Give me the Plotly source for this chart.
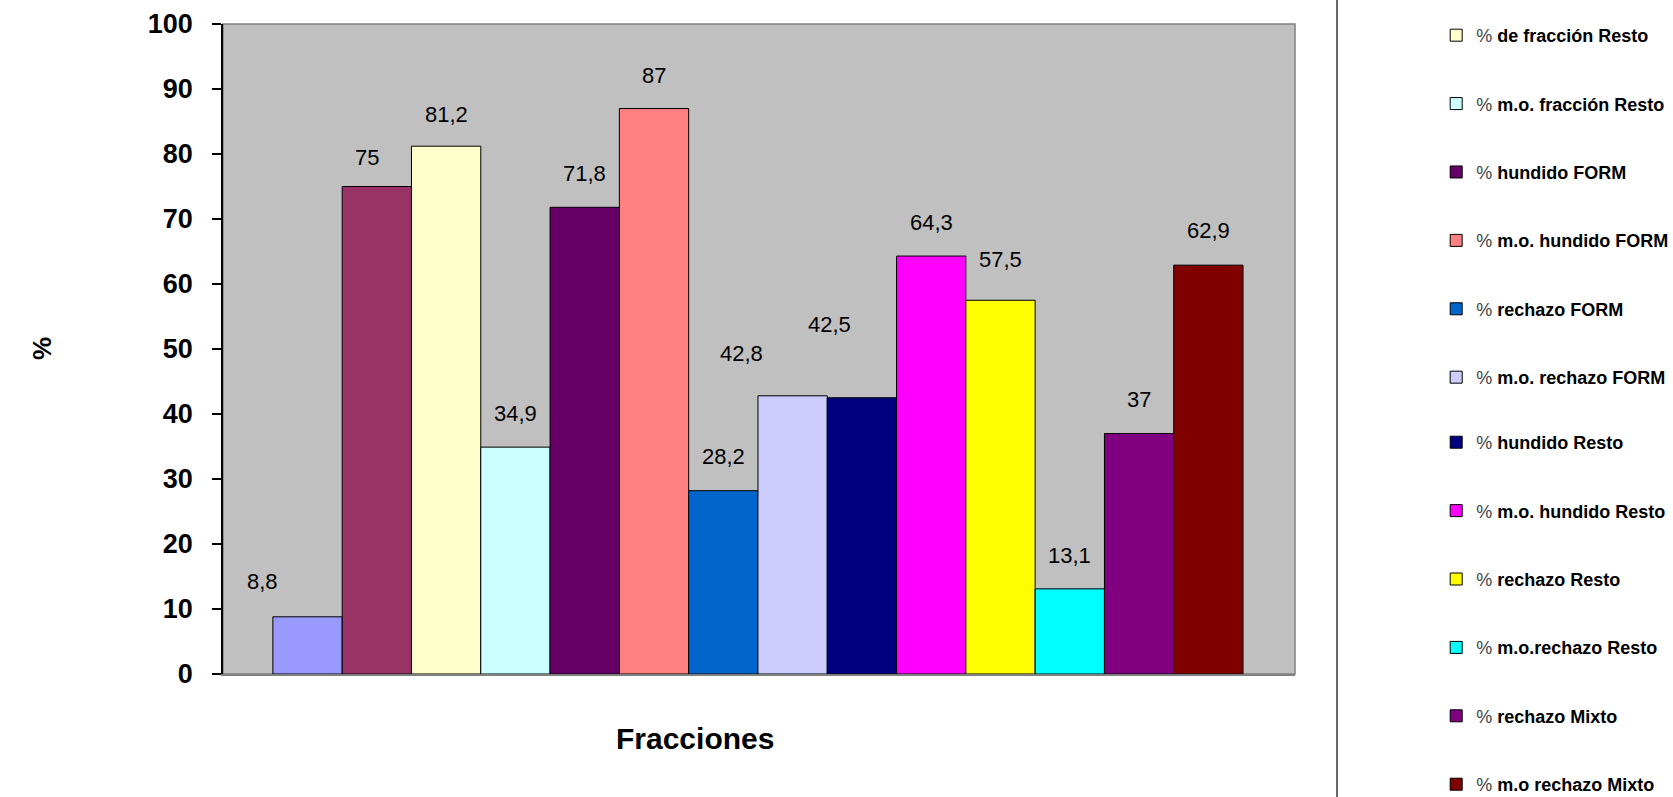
import plotly.graph_objects as go

# Series (one bar per series), values in %
series_names = [
    "% de fracción FORM",
    "% m.o. fracción FORM",
    "% de fracción Resto",
    "% m.o. fracción Resto",
    "% hundido FORM",
    "% m.o. hundido FORM",
    "% rechazo FORM",
    "% m.o. rechazo FORM",
    "% hundido Resto",
    "% m.o. hundido Resto",
    "% rechazo Resto",
    "% m.o.rechazo Resto",
    "% rechazo Mixto",
    "% m.o rechazo Mixto",
]
values = [8.8, 75, 81.2, 34.9, 71.8, 87, 28.2, 42.8, 42.5, 64.3, 57.5, 13.1, 37, 62.9]
colors = ["#9999FF", "#993366", "#FFFFCC", "#CCFFFF", "#660066", "#FF8080", "#0066CC",
          "#CCCCFF", "#000080", "#FF00FF", "#FFFF00", "#00FFFF", "#800080", "#800000"]
# which legend box each series is listed in (None = not listed)
legend_slot = [None, None] + ["legend"] * 6 + ["legend2"] * 6
y_ticks = list(range(0, 101, 10))

# pixel nudges for the value labels (relative to the top-centre of each bar)
label_dx = [-45, -10, 0, 0, 0, 0, 0, -51, -32, 0, 0, 0, 0, 0]
label_dy = [35, 29, 32, 34, 34, 33, 34, 42, 73, 34, 41, 33, 34, 35]

FONT = "Liberation Sans, Arial, sans-serif"


def fmt(v):
    return f"{v:g}".replace(".", ",")


def legend_label(name):
    rest = name[1:].strip()
    return f"<span style='font-weight:normal;color:#444'>%</span> {rest}"


fig = go.Figure()
for i, (name, v, c, slot) in enumerate(zip(series_names, values, colors, legend_slot)):
    fig.add_trace(go.Bar(
        x=[i], y=[v], width=1.0,
        name=legend_label(name),
        legendgroup=f"g{i}",
        legend=slot or "legend",
        showlegend=slot is not None,
        marker=dict(color=c, line=dict(color="#000000", width=1)),
        hovertemplate=f"{name}: {fmt(v)}<extra></extra>",
    ))

annotations = []
for i, v in enumerate(values):
    annotations.append(dict(
        x=i, y=v, xref="x", yref="y", text=fmt(v), showarrow=False,
        xshift=label_dx[i], yshift=label_dy[i], yanchor="middle", xanchor="center",
        font=dict(family=FONT, size=22, color="#000000"),
    ))

# axis titles
annotations.append(dict(
    x=-0.1847, y=0.5, xref="paper", yref="paper", text="<b>%</b>", textangle=-90,
    showarrow=False, font=dict(family=FONT, size=26, color="#000000"),
))
annotations.append(dict(
    x=0.4403, y=-0.0985, xref="paper", yref="paper", text="<b>Fracciones</b>",
    showarrow=False, yanchor="middle",
    font=dict(family=FONT, size=30, color="#000000"),
))

shapes = [
    # plot-area frame
    dict(type="rect", xref="paper", yref="paper", x0=0, y0=0, x1=1, y1=1,
         line=dict(color="#808080", width=1.5), layer="below"),
    # separator next to the legend
    dict(type="line", xref="paper", yref="paper", x0=1.0392, x1=1.0392, y0=-0.2, y1=1.05,
         line=dict(color="#333333", width=1.5)),
]

legend_common = dict(
    xanchor="left", yanchor="top",
    font=dict(family=FONT, size=18, color="#000000", weight="bold"),
    tracegroupgap=42, bgcolor="rgba(0,0,0,0)", borderwidth=0,
    itemclick=False, itemdoubleclick=False,
)

fig.update_layout(
    width=1673, height=797,
    margin=dict(l=223, r=378, t=24, b=123, pad=0, autoexpand=False),
    paper_bgcolor="#FFFFFF",
    plot_bgcolor="#C0C0C0",
    barmode="overlay",
    showlegend=True,
    legend=dict(x=1.1317, y=1.0108, **legend_common),
    legend2=dict(x=1.1317, y=0.3846, **legend_common),
    xaxis=dict(
        range=[-1.22, 14.25], showticklabels=False, ticks="",
        showgrid=False, zeroline=False, showline=True, linecolor="#808080", linewidth=1.5,
        fixedrange=True,
    ),
    yaxis=dict(
        range=[0, 100], tickvals=y_ticks, ticks="outside", ticklen=9, tickwidth=1.5,
        tickcolor="#000000", showline=True, linecolor="#000000", linewidth=1.5,
        showgrid=False, zeroline=False, ticklabelstandoff=14,
        tickfont=dict(family=FONT, size=27, color="#000000", weight="bold"),
        fixedrange=True,
    ),
    annotations=annotations,
    shapes=shapes,
)

fig.write_html("out.html")
